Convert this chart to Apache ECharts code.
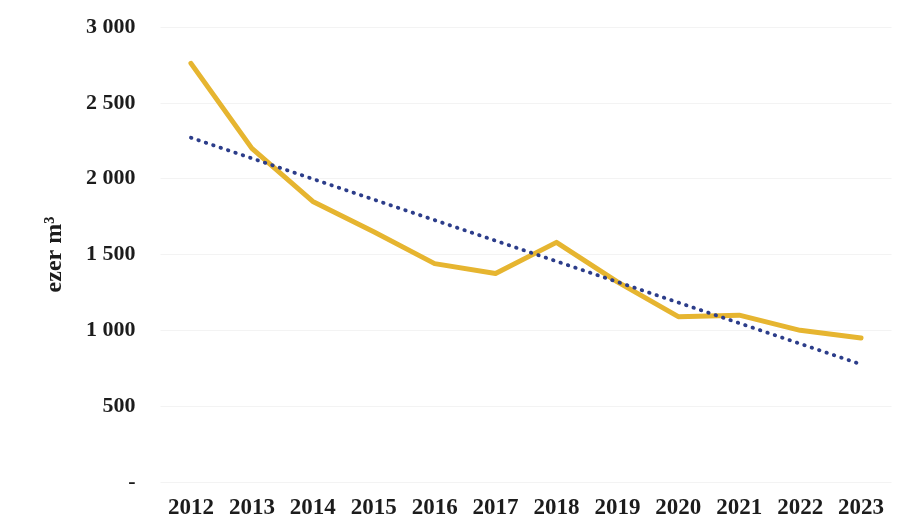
<!DOCTYPE html>
<html>
<head>
<meta charset="utf-8">
<script src="https://cdn.jsdelivr.net/npm/echarts@6/dist/echarts.min.js"></script>
<style>
  html, body { margin: 0; padding: 0; background: #ffffff; }
  #chart { width: 910px; height: 531px; }
</style>
</head>
<body>
<div id="chart"></div>
<script>
// Yearly volume, thousand cubic metres
const years = ['2012', '2013', '2014', '2015', '2016', '2017', '2018', '2019', '2020', '2021', '2022', '2023'];
const volume = [2760, 2200, 1850, 1650, 1440, 1375, 1580, 1320, 1090, 1100, 1000, 950];

// Linear trend, start and end values
const trendYears = ['2012', '2023'];
const trendValues = [2270, 776];

// Value-axis tick labels (0 shown as a dash)
const yTicks = [0, 500, 1000, 1500, 2000, 2500, 3000];
const yTickLabels = ['-', '500', '1 000', '1 500', '2 000', '2 500', '3 000'];

const FONT = '"Liberation Serif", "DejaVu Serif", serif';

const chart = echarts.init(document.getElementById('chart'), null, { renderer: 'canvas' });

chart.setOption({
  backgroundColor: '#ffffff',
  animation: false,
  grid: { left: 160.5, right: 18.5, top: 27, bottom: 49, containLabel: false },
  xAxis: {
    type: 'category',
    data: years,
    boundaryGap: true,
    axisLine: { show: false },
    axisTick: { show: false },
    axisLabel: {
      margin: 15,
      fontFamily: FONT,
      fontWeight: 'bold',
      fontSize: 23,
      color: '#1c1c1c'
    },
    splitLine: { show: false }
  },
  yAxis: {
    type: 'value',
    min: 0,
    max: 3000,
    interval: 500,
    name: 'ezer m³',
    nameLocation: 'middle',
    nameRotate: 90,
    nameGap: 94,
    nameTextStyle: {
      fontFamily: FONT,
      fontWeight: 'bold',
      fontSize: 24,
      color: '#1c1c1c'
    },
    axisLine: { show: false },
    axisTick: { show: false },
    axisLabel: {
      margin: 25,
      fontFamily: FONT,
      fontWeight: 'bold',
      fontSize: 22,
      color: '#1c1c1c',
      formatter: function (v) {
        const i = yTicks.indexOf(v);
        return i >= 0 ? yTickLabels[i] : '';
      }
    },
    splitLine: { show: true, lineStyle: { color: '#f3f3f3', width: 1 } }
  },
  series: [
    {
      name: 'volume',
      type: 'line',
      data: volume,
      symbol: 'none',
      smooth: false,
      lineStyle: { color: '#e6b530', width: 5, cap: 'round', join: 'round' },
      z: 2
    },
    {
      name: 'trend',
      type: 'line',
      data: trendYears.map((y, i) => [y, trendValues[i]]),
      symbol: 'none',
      lineStyle: { color: '#2c3d8a', width: 3.8, type: [0.5, 7.3], cap: 'round' },
      z: 3
    }
  ]
});
</script>
</body>
</html>
